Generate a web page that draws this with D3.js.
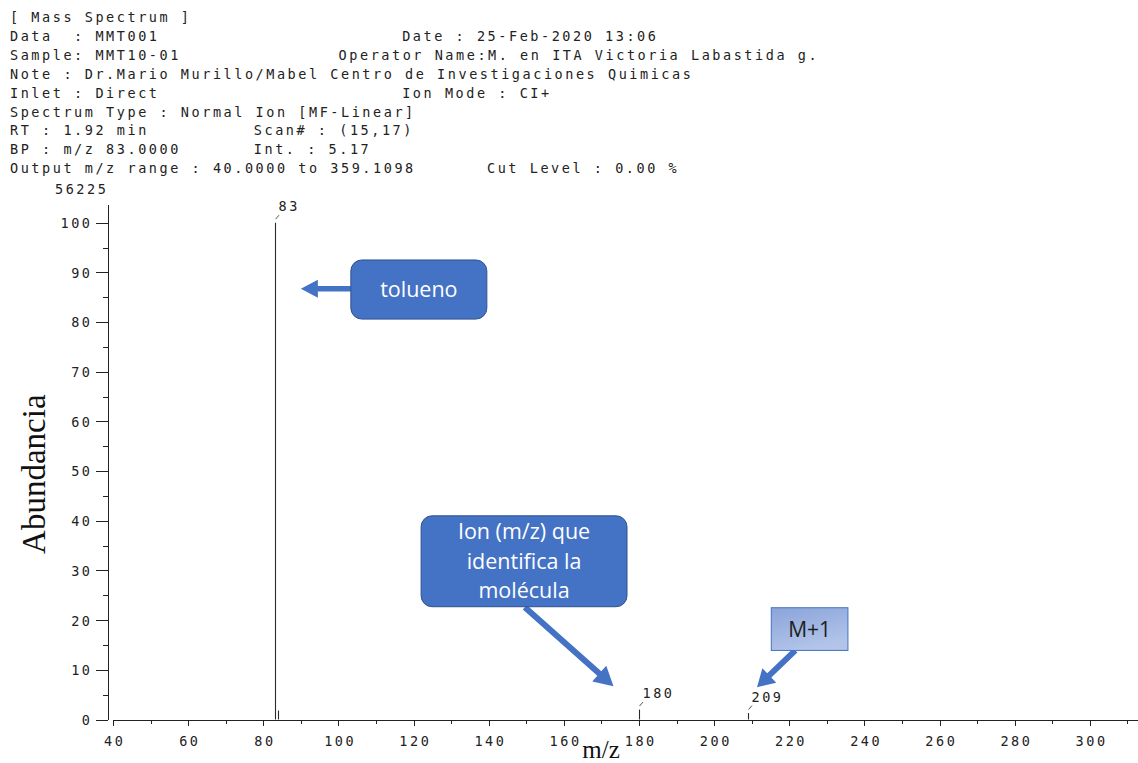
<!DOCTYPE html>
<html>
<head>
<meta charset="utf-8">
<script src="https://cdn.jsdelivr.net/npm/d3@7"></script>
<style>
  html, body { margin: 0; padding: 0; background: #ffffff; }
  svg { display: block; }
  .mono {
    font-family: "DejaVu Sans Mono", "Liberation Mono", monospace;
    font-size: 13.5px;
    letter-spacing: 2.55px;
    fill: #222;
    white-space: pre;
  }
  .callout { font-family: "Open Sans", "Noto Sans", sans-serif; }
</style>
</head>
<body>
<svg id="chart" width="1138" height="763"></svg>
<script>
// ---- Acquisition header (column, text) per row ----
const headerRows = [
  [[0, "[ Mass Spectrum ]"]],
  [[0, "Data  : MMT001"], [37, "Date : 25-Feb-2020 13:06"]],
  [[0, "Sample: MMT10-01"], [31, "Operator Name:M. en ITA Victoria Labastida g."]],
  [[0, "Note : Dr.Mario Murillo/Mabel Centro de Investigaciones Quimicas"]],
  [[0, "Inlet : Direct"], [37, "Ion Mode : CI+"]],
  [[0, "Spectrum Type : Normal Ion [MF-Linear]"]],
  [[0, "RT : 1.92 min"], [23, "Scan# : (15,17)"]],
  [[0, "BP : m/z 83.0000"], [23, "Int. : 5.17"]],
  [[0, "Output m/z range : 40.0000 to 359.1098"], [45, "Cut Level : 0.00 %"]]
];

// ---- Spectrum ----
const peakMz    = [83, 84, 180, 209];
const peakAbund = [100, 1.8, 2.0, 1.3];
const labeledPeaks = [83, 180, 209];
const baseIntensity = "56225";

// ---- Axes ----
const xMajorTicks = [40, 60, 80, 100, 120, 140, 160, 180, 200, 220, 240, 260, 280, 300];
const xMinorTicks = [50, 70, 90, 110, 130, 150, 170, 190, 210, 230, 250, 270, 290, 310];
const yMajorTicks = [0, 10, 20, 30, 40, 50, 60, 70, 80, 90, 100];
const yMinorTicks = [5, 15, 25, 35, 45, 55, 65, 75, 85, 95];
const xTitle = "m/z";
const yTitle = "Abundancia";

// ---- Callouts (positions in m/z / abundance units) ----
const callouts = [
  { lines: ["tolueno"], box: [103.3, 139.5, 92.5, 80.6], rounded: true,
    arrowFrom: [103.3, 86.7], arrowTo: [90.0, 86.7], shaft: 5.5, head: 18, headLen: 17 },
  { lines: ["Ion (m/z) que", "identifica la", "molécula"], box: [122.0, 176.8, 41.0, 22.7], rounded: true,
    arrowFrom: [149.6, 22.6], arrowTo: [173.2, 6.7], shaft: 6, head: 21, headLen: 19 },
  { lines: ["M+1"], box: [215.2, 235.6, 22.5, 13.9], rounded: false,
    arrowFrom: [221.6, 13.9], arrowTo: [211.4, 6.5], shaft: 6, head: 20, headLen: 17 }
];

const svg = d3.select("#chart");
const charW = 10.6;

// header block
headerRows.forEach((row, i) => {
  row.forEach(([col, txt]) => {
    svg.append("text").attr("class", "mono")
      .attr("x", 10 + col * charW)
      .attr("y", 22 + i * 18.9)
      .text(txt);
  });
});

const x = d3.scaleLinear().domain([40, 312.8]).range([113, 1138]);
const y = d3.scaleLinear().domain([0, 100]).range([719.5, 222.7]);
const yAxisScale = d3.scaleLinear().domain([0, 103.6]).range([y(0), y(103.6)]);

const axisColor = "#222";

// x axis
const gx = svg.append("g").attr("transform", "translate(0,720)");
gx.call(d3.axisBottom(x).tickValues(xMajorTicks).tickSize(6).tickSizeOuter(0).tickFormat(d3.format("d")));
gx.selectAll("text").attr("class", "mono").attr("y", 26).attr("dy", 0).attr("dx", 1.2).attr("font-size", null).attr("font-family", null);
const gxm = svg.append("g").attr("transform", "translate(0,720)");
gxm.call(d3.axisBottom(x).tickValues(xMinorTicks).tickSize(4).tickSizeOuter(0).tickFormat(""));
gxm.select(".domain").remove();

// y axis
const gy = svg.append("g").attr("transform", "translate(107.5,0)");
gy.call(d3.axisLeft(yAxisScale).tickValues(yMajorTicks).tickSize(12).tickSizeOuter(0).tickFormat(d3.format("d")));
gy.selectAll("text").attr("class", "mono").attr("x", -15).attr("dy", "0.36em").attr("font-size", null).attr("font-family", null);
const gym = svg.append("g").attr("transform", "translate(107.5,0)");
gym.call(d3.axisLeft(yAxisScale).tickValues(yMinorTicks).tickSize(5).tickSizeOuter(0).tickFormat(""));
gym.select(".domain").remove();

svg.selectAll(".domain, .tick line").attr("stroke", axisColor).attr("stroke-width", 1).attr("shape-rendering", "crispEdges");

// base peak intensity above the y axis
svg.append("text").attr("class", "mono").attr("x", 55).attr("y", 194).text(baseIntensity);

// axis titles
svg.append("text")
  .attr("transform", `translate(45,${(y(0) + y(103.6)) / 2 + 12}) rotate(-90)`)
  .attr("text-anchor", "middle")
  .attr("font-family", "'Liberation Serif', 'Times New Roman', serif")
  .attr("font-size", 33).attr("fill", "#111")
  .text(yTitle);
svg.append("text")
  .attr("x", 601).attr("y", 758)
  .attr("text-anchor", "middle")
  .attr("font-family", "'Liberation Serif', 'Times New Roman', serif")
  .attr("font-size", 25).attr("fill", "#111")
  .text(xTitle);

// spectrum sticks
const peaks = peakMz.map((m, i) => ({ mz: m, ab: peakAbund[i] }));
svg.append("g").selectAll("line").data(peaks).join("line")
  .attr("x1", d => Math.round(x(d.mz)) + 0.5).attr("x2", d => Math.round(x(d.mz)) + 0.5)
  .attr("y1", y(0)).attr("y2", d => y(d.ab))
  .attr("stroke", "#2a2a2a").attr("stroke-width", 1.1);

// peak labels with leader ticks
const labeled = peaks.filter(p => labeledPeaks.includes(p.mz));
const gl = svg.append("g");
labeled.forEach(p => {
  const px = Math.round(x(p.mz)) + 0.5, py = y(p.ab);
  gl.append("line")
    .attr("x1", px).attr("y1", py - 3.5).attr("x2", px + 3.5).attr("y2", py - 7.5)
    .attr("stroke", "#555").attr("stroke-width", 1);
  gl.append("text").attr("class", "mono").attr("x", px + 3).attr("y", py - 11.5).text(String(p.mz));
});

// callout arrows and boxes
function arrowPath(x1, y1, x2, y2, w, hw, hl) {
  const dx = x2 - x1, dy = y2 - y1, len = Math.hypot(dx, dy);
  const ux = dx / len, uy = dy / len, nx = -uy, ny = ux;
  const bx = x2 - ux * hl, by = y2 - uy * hl;
  const pts = [
    [x1 + nx * w / 2, y1 + ny * w / 2],
    [bx + nx * w / 2, by + ny * w / 2],
    [bx + nx * hw / 2, by + ny * hw / 2],
    [x2, y2],
    [bx - nx * hw / 2, by - ny * hw / 2],
    [bx - nx * w / 2, by - ny * w / 2],
    [x1 - nx * w / 2, y1 - ny * w / 2]
  ];
  return "M" + pts.map(p => p.join(",")).join("L") + "Z";
}

const defs = svg.append("defs");
const grad = defs.append("linearGradient").attr("id", "lightBlue")
  .attr("x1", 0).attr("y1", 0).attr("x2", 0.4).attr("y2", 1);
grad.append("stop").attr("offset", "0%").attr("stop-color", "#8aa4da");
grad.append("stop").attr("offset", "100%").attr("stop-color", "#b2c4e8");

const gc = svg.append("g").attr("class", "callout");
callouts.forEach(c => {
  const [m0, m1, a0, a1] = c.box;
  const bx0 = x(m0), bx1 = x(m1), by0 = y(a0), by1 = y(a1);
  gc.append("path")
    .attr("d", arrowPath(x(c.arrowFrom[0]), y(c.arrowFrom[1]), x(c.arrowTo[0]), y(c.arrowTo[1]), c.shaft, c.head, c.headLen))
    .attr("fill", "#4472c4");
  gc.append("rect")
    .attr("x", bx0).attr("y", by0).attr("width", bx1 - bx0).attr("height", by1 - by0)
    .attr("rx", c.rounded ? 11 : 0)
    .attr("fill", c.rounded ? "#4472c4" : "url(#lightBlue)")
    .attr("stroke", c.rounded ? "#2f528f" : "#4472c4").attr("stroke-width", 1);
  const cx = (bx0 + bx1) / 2, cy = (by0 + by1) / 2;
  const lh = 29.5;
  c.lines.forEach((t, i) => {
    gc.append("text")
      .attr("x", cx)
      .attr("y", cy + (i - (c.lines.length - 1) / 2) * lh + 7.5)
      .attr("text-anchor", "middle")
      .attr("font-size", c.rounded ? 21.5 : 21)
      .attr("fill", c.rounded ? "#ffffff" : "#1e1e1e")
      .text(t);
  });
});
</script>
</body>
</html>
